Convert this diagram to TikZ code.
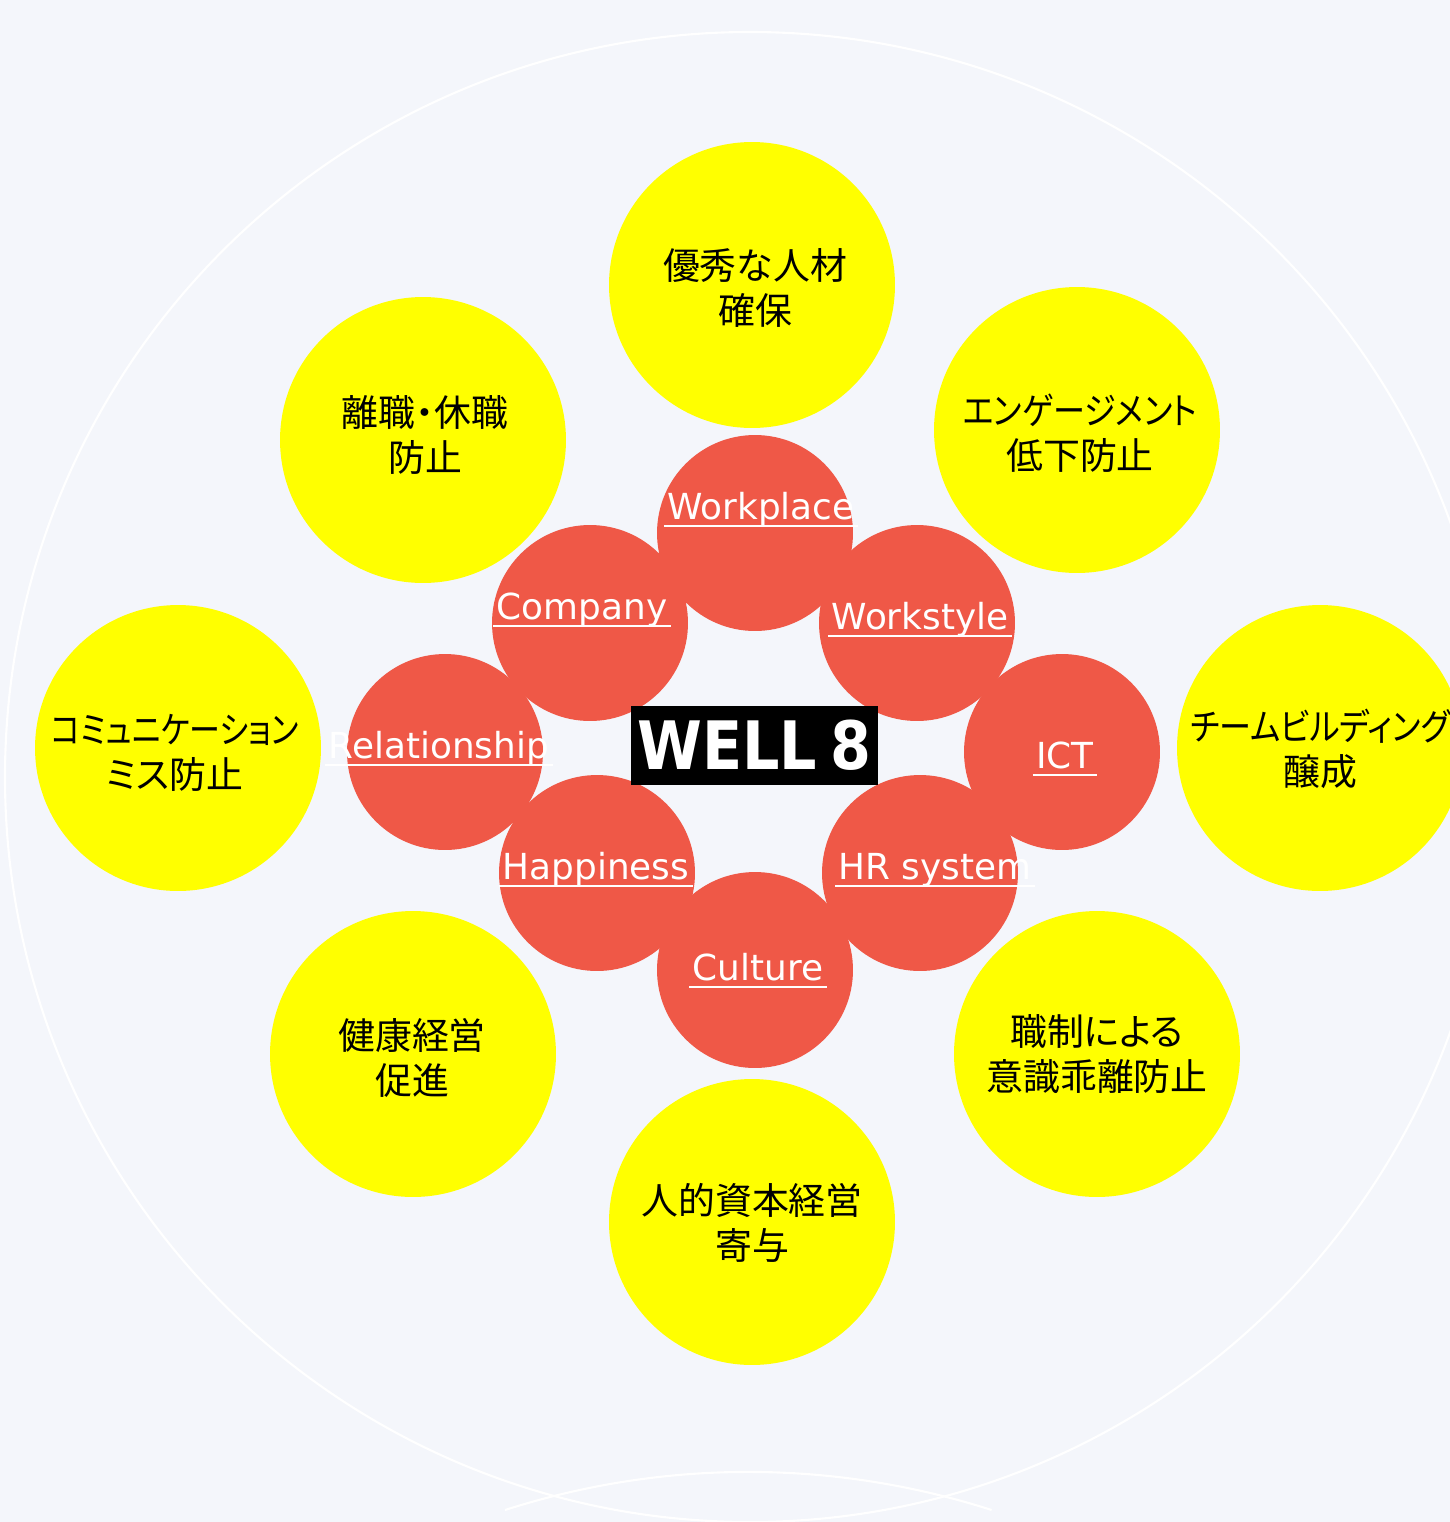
\documentclass[tikz,border=0pt]{standalone}
\usepackage{fontspec}
\usepackage{tikz}
\usetikzlibrary{positioning}
\newfontfamily\jpfont[RawFeature=+palt]{Noto Sans CJK JP}
\newfontfamily\tagfont{DejaVu Sans}
\definecolor{mbg}{HTML}{F4F6FB}
\definecolor{mred}{HTML}{EF5847}
\definecolor{myellow}{HTML}{FFFF00}
\tikzstyle{goal}=[circle, fill=myellow, minimum size=5.72cm, inner sep=0pt]
\tikzstyle{goaltext}=[align=center, inner sep=0pt, font={\jpfont\fontsize{21pt}{25.6pt}\selectfont}]
\tikzstyle{wellnode}=[circle, fill=mred, minimum size=3.92cm, inner sep=0pt]
\tikzstyle{tag}=[anchor=base, inner sep=0pt, text=white, font={\tagfont\fontsize{20.4pt}{24pt}\selectfont}]
\tikzstyle{ring}=[draw=white, line width=1.2pt]
\newcommand{\ulabel}[1]{\setbox0\hbox{#1}\rlap{\kern-2pt\rule[-4.6pt]{\dimexpr\wd0+4pt\relax}{1.1pt}}\box0}
\newcommand{\tight}[2][0.87]{\scalebox{#1}[1]{#2}}

\begin{document}
\begin{tikzpicture}[x=0.02cm, y=-0.02cm]
    \fill[mbg] (0,0) rectangle (1450,1522);
    \useasboundingbox (0,0) rectangle (1450,1522);
    \draw[ring] (750,777) circle[radius=745];
    \draw[ring] (505,1510) arc[start angle=252.2, end angle=287.8, radius=796];

    % outer goals
    \node[goal] at (752,285) (g1) {};
    \node[goal] at (1077,430) (g2) {};
    \node[goal] at (1320,748) (g3) {};
    \node[goal] at (1097,1054) (g4) {};
    \node[goal] at (752,1222) (g5) {};
    \node[goal] at (413,1054) (g6) {};
    \node[goal] at (178,748) (g7) {};
    \node[goal] at (423,440) (g8) {};
    \node[goaltext] at (755,288) (t1) {優秀な人材\\確保};
    \node[goaltext] at (1080,433) (t2) {\tight{エンゲージメント}\\低下防止};
    \node[goaltext] at (1320,749) (t3) {\tight{チームビルディング}\\醸成};
    \node[goaltext] at (1097,1054) (t4) {職制による\\意識乖離防止};
    \node[goaltext] at (752,1223) (t5) {人的資本経営\\寄与};
    \node[goaltext] at (412,1058) (t6) {健康経営\\促進};
    \node[goaltext] at (175,753) (t7) {\tight[0.84]{コミュニケーション}\\ミス防止};
    \node[goaltext] at (425,435) (t8) {離職・休職\\防止};

    % WELL 8 ring
    \node[wellnode] at (755,533) (w1) {};
    \node[wellnode] at (590,623) (w2) {};
    \node[wellnode] at (917,623) (w3) {};
    \node[wellnode] at (445,752) (w4) {};
    \node[wellnode] at (1062,752) (w5) {};
    \node[wellnode] at (597,873) (w6) {};
    \node[wellnode] at (920,873) (w7) {};
    \node[wellnode] at (755,970) (w8) {};
    \node[tag] at (761,519) (l1) {\ulabel{Workplace}};
    \node[tag] at (582,619) (l2) {\ulabel{Company}};
    \node[tag] at (920,629) (l3) {\ulabel{Workstyle}};
    \node[tag] at (439,758) (l4) {\ulabel{Relationship}};
    \node[tag] at (1065,768) (l5) {\ulabel{ICT}};
    \node[tag] at (596,879) (l6) {\ulabel{Happiness}};
    \node[tag] at (935,879) (l7) {\ulabel{HR system}};
    \node[tag] at (758,980) (l8) {\ulabel{Culture}};

    \node[fill=black, minimum width=4.94cm, minimum height=1.58cm, inner sep=0pt,
          text=white, font={\tagfont\bfseries\fontsize{38pt}{40pt}\selectfont}]
          at (754.5,745.5) (core) {\scalebox{0.88}[1]{WELL\kern-0.12em\ 8}};
\end{tikzpicture}
\end{document}
